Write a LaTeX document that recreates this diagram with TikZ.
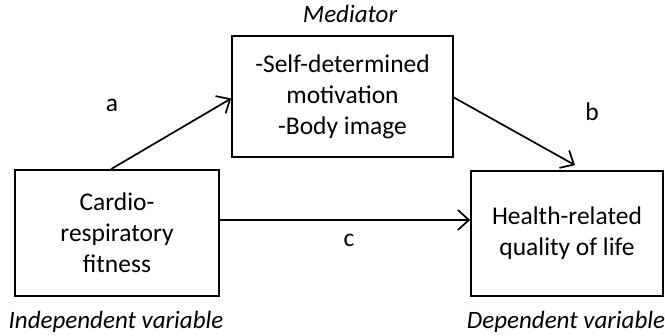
\documentclass[tikz,border=0pt]{standalone}
\usepackage{fontspec}
\setmainfont{Carlito}
\usetikzlibrary{arrows.meta, positioning}

\begin{document}
\begin{tikzpicture}[x=1pt, y=1pt, >={Straight Barb[length=11pt,width=20pt]},
    varbox/.style={draw, line width=1.7pt, align=center, inner sep=0pt,
        font=\fontsize{25.5}{31}\selectfont},
    lbl/.style={font=\fontsize{25.5}{29}\selectfont},
    role/.style={font=\fontsize{25}{29}\selectfont\itshape},
    path/.style={->, line width=1.7pt}]
    % Canvas
    \useasboundingbox (0,0) rectangle (665,336);

    % Boxes
    \node[varbox, minimum width=204pt, minimum height=126pt] (ind) at (117,103)
        {Cardio-\\respiratory\\fitness};
    \node[varbox, minimum width=221pt, minimum height=121pt] (med) at (342.5,239.5)
        {-Self-determined\\motivation\\-Body image};
    \node[varbox, minimum width=192pt, minimum height=125pt] (dep) at (567,102.5)
        {Health-related\\quality of life};

    % Roles
    \node[role] (medlbl) at (350,322) {Mediator};
    \node[role] (indlbl) at (116,14) {Independent variable};
    \node[role] (deplbl) at (566,14) {Dependent variable};

    % Paths
    \draw[path] ([xshift=-6pt]ind.north) -- ([yshift=-2pt]med.west);
    \draw[path] ([yshift=-1pt]med.east) -- ([xshift=8pt,yshift=5pt]dep.north);
    \draw[path] ([yshift=13pt]ind.east) -- ([yshift=13pt]ind.east -| dep.west);

    % Path labels
    \node[lbl] (a) at (112,231) {a};
    \node[lbl] (b) at (592,224) {b};
    \node[lbl] (c) at (349,96) {c};
\end{tikzpicture}
\end{document}
